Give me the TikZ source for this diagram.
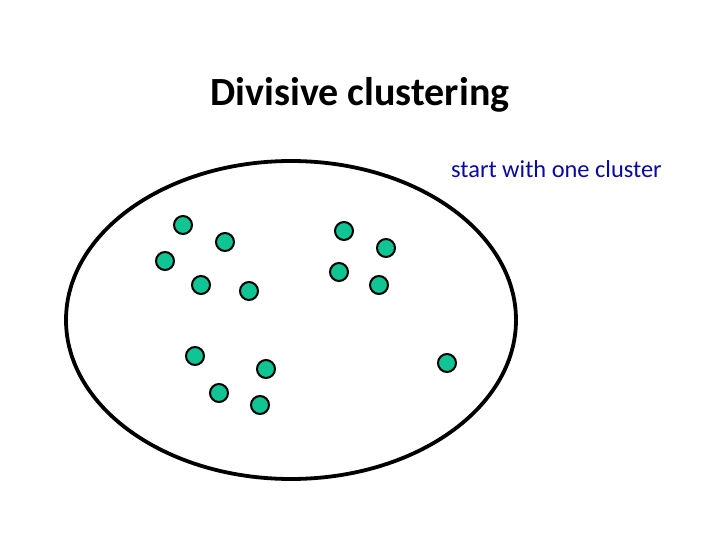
\documentclass[tikz,border=0pt]{standalone}
\usepackage{fontspec}
\setmainfont{Carlito}
\usetikzlibrary{positioning}
\definecolor{dotgreen}{RGB}{16,196,148}
\definecolor{notblue}{RGB}{10,10,160}
\tikzset{
  pt/.style={circle, draw=black, line width=2pt, fill=dotgreen, inner sep=0pt, minimum size=18pt},
  cluster/.style={draw=black, line width=3.8pt}
}

\begin{document}
\begin{tikzpicture}[x=1pt,y=-1pt]
    \useasboundingbox (0,0) rectangle (720,540);
    \node[font=\fontsize{40}{44}\selectfont\bfseries] (title) at (360,95) {Divisive clustering};
    \node[font=\fontsize{24.4}{28}\selectfont, text=notblue, anchor=west, inner sep=0pt] (note) at (451,169) {start with one cluster};
    %% the single cluster holding every point
    \draw[cluster] (291,320) ellipse [x radius=225, y radius=159];
    \foreach \n/\px/\py in {p1/183/225, p2/225/242, p3/165/261, p4/201/285, p5/249/291,
                            p6/344/231, p7/386/248, p8/339/272, p9/379/285,
                            p10/195/356, p11/266/369, p12/219/393, p13/260/405, p14/447/363}
      \node[pt] (\n) at (\px,\py) {};
  \end{tikzpicture}
\end{document}
